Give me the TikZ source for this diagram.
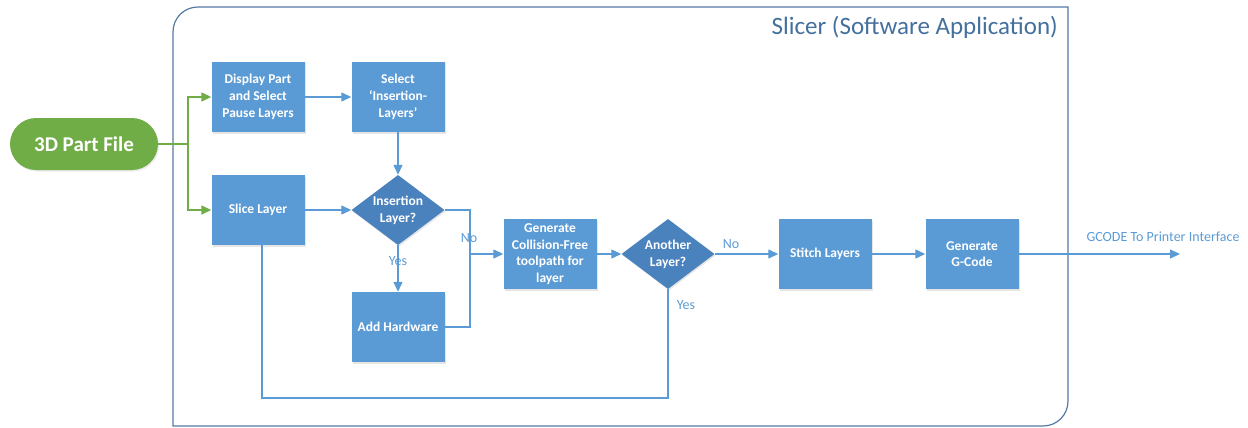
\documentclass[tikz,border=0pt]{standalone}
\usepackage{fontspec}
\setmainfont{Carlito}
\usetikzlibrary{arrows.meta,shapes.geometric,shadows}
\definecolor{boxblue}{RGB}{91,155,213}
\definecolor{diablue}{RGB}{74,130,190}
\definecolor{linblue}{RGB}{91,155,213}
\definecolor{frame}{RGB}{84,122,165}
\definecolor{titleblue}{RGB}{68,112,158}
\definecolor{pgreen}{RGB}{112,173,71}
\tikzset{
  box/.style={draw=none, fill=boxblue, minimum width=93pt, minimum height=70pt,
    inner sep=2pt, align=center, text=white, font=\fontsize{13.5}{16.7}\selectfont\bfseries,
    drop shadow={shadow xshift=1pt, shadow yshift=-1.5pt, opacity=0.25, fill=black!40}},
  dia/.style={diamond, draw=none, fill=diablue, minimum width=93pt, minimum height=70pt,
    aspect=1.33, inner sep=0pt, align=center, text=white, font=\fontsize{13.5}{16.7}\selectfont\bfseries,
    drop shadow={shadow xshift=1pt, shadow yshift=-1.5pt, opacity=0.25, fill=black!40}},
  flow/.style={draw=linblue, line width=1.3pt},
  arr/.style={flow, -{Triangle[length=10pt,width=9pt]}},
  garr/.style={draw=pgreen, line width=1.5pt, -{Triangle[length=10pt,width=9pt]}},
  lbl/.style={text=linblue, font=\fontsize{14}{16}\selectfont, inner sep=1pt},
}
\begin{document}
\begin{tikzpicture}[x=1pt,y=-1pt]
\useasboundingbox (0,0) rectangle (1248,428);
% container
\draw[frame, line width=1.2pt] (173,426) -- (173,32) .. controls (173,18) and (184,7) .. (198,7)
  -- (1068,7) -- (1068,401) .. controls (1068,415) and (1057,426) .. (1043,426) -- cycle;
\node[anchor=east, text=titleblue, font=\fontsize{25}{28}\selectfont, inner sep=0pt] (title) at (1058,27) {Slicer (Software Application)};
% nodes
\node[fill=pgreen, rounded corners=26pt, minimum width=148pt, minimum height=52pt, text=white,
  font=\fontsize{21}{24}\selectfont\bfseries,
  drop shadow={shadow xshift=1pt, shadow yshift=-1.5pt, opacity=0.2, fill=black!40}] (part) at (84,144) {3D Part File};
\node[box] (disp) at (258,97) {Display Part\\and Select\\Pause Layers};
\node[box] (sel) at (398,97) {Select\\‘Insertion-\\Layers’};
\node[box] (slice) at (258,210) {Slice Layer};
\node[dia] (ins) at (398,210) {Insertion\\Layer?};
\node[box] (add) at (398,327) {Add Hardware};
\node[box] (gen) at (550,254) {Generate\\Collision-Free\\toolpath for\\layer};
\node[dia] (another) at (668,254) {Another\\Layer?};
\node[box] (stitch) at (825,254) {Stitch Layers};
\node[box] (gcode) at (972,254) {Generate\\G-Code};
\coordinate (out) at (1180,254);
\coordinate (gsplit) at (188,144);
\coordinate (join) at (470,254);
\coordinate (lp) at (262,398);
% green connectors
\draw[draw=pgreen, line width=1.5pt] (part.east) -- (gsplit);
\draw[garr] (gsplit) |- (disp.west);
\draw[garr] (gsplit) |- (slice.west);
% blue connectors
\draw[arr] (disp) -- (sel);
\draw[arr] (sel) -- (ins);
\draw[arr] (slice) -- (ins);
\draw[flow] (ins.east) -| (join);
\draw[flow] (add.east) -| (join);
\draw[arr] (join) -- (gen.west);
\draw[arr] (ins.south) -- (add.north);
\draw[arr] (gen) -- (another);
\draw[arr] (another) -- (stitch);
\draw[arr] (stitch) -- (gcode);
\draw[arr] (gcode) -- (out);
\draw[flow] (another.south) |- (lp) -- (lp |- slice.south);
% labels
\node[lbl] (no1) at (469,238) {No};
\node[lbl] (yes1) at (398,261) {Yes};
\node[lbl] (no2) at (731,244) {No};
\node[lbl] (yes2) at (686,305) {Yes};
\node[lbl] (gl) at (1163,237) {GCODE To Printer Interface};
\end{tikzpicture}
\end{document}
